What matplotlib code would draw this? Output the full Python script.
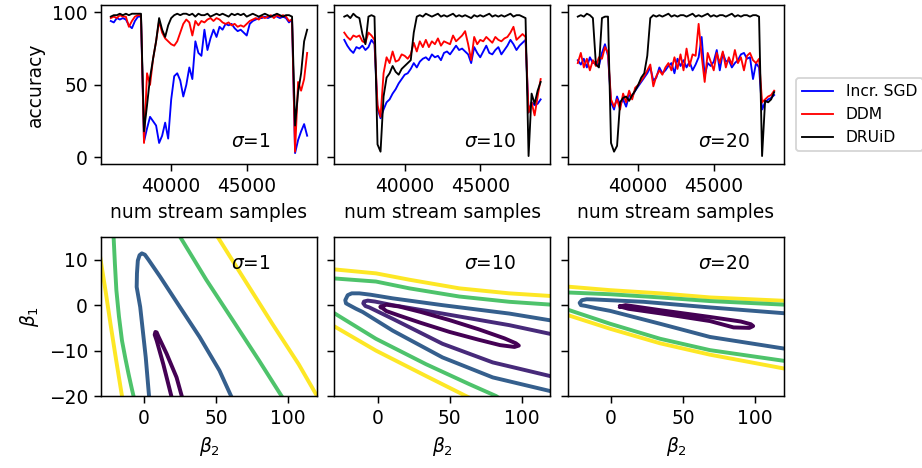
import numpy as np
import matplotlib
matplotlib.use('Agg')
import matplotlib.pyplot as plt

# stream positions of the accuracy curves
samples = np.arange(36000, 49001, 200)

# sigma = 1
sgd_s1 = [94, 93, 96, 95, 96, 95, 91, 89, 94, 97, 97,
          11, 20, 28, 25, 22, 10, 15, 24, 13, 40, 56,
          58, 53, 42, 50, 62, 54, 80, 72, 70, 88, 74,
          82, 88, 83, 90, 88, 92, 91, 92, 89, 87, 88,
          86, 84, 92, 94, 95, 96, 96, 97, 96, 97, 98,
          97, 96, 97, 96, 93, 95, 3, 12, 18, 23, 15]
ddm_s1 = [96, 97, 96, 98, 97, 97, 90, 94, 97, 98, 98,
          10, 58, 50, 68, 80, 94, 86, 82, 80, 78, 77,
          80, 86, 92, 95, 93, 84, 94, 91, 94, 93, 95,
          96, 94, 96, 95, 93, 92, 93, 91, 92, 90, 91,
          90, 92, 94, 95, 96, 95, 97, 96, 97, 98, 96,
          98, 97, 98, 97, 94, 95, 4, 52, 46, 54, 72]
druid_s1 = [97, 98, 98, 99, 98, 99, 98, 99, 99, 99, 99,
            18, 36, 55, 68, 80, 96, 88, 83, 91, 96, 98,
            99, 98, 99, 99, 98, 99, 97, 99, 98, 98, 99,
            97, 98, 99, 98, 99, 98, 97, 99, 98, 99, 98,
            99, 97, 98, 99, 98, 97, 98, 99, 98, 97, 98,
            99, 98, 97, 98, 98, 97, 22, 45, 58, 80, 88]

# sigma = 10
sgd_s10 = [81, 77, 74, 72, 76, 75, 77, 74, 76, 81, 78,
           34, 27, 33, 38, 40, 44, 47, 51, 54, 57, 58,
           61, 65, 62, 66, 68, 69, 67, 71, 69, 70, 67,
           72, 73, 71, 74, 77, 74, 75, 73, 71, 65, 76,
           72, 69, 73, 77, 72, 71, 74, 76, 71, 74, 77,
           81, 78, 74, 77, 79, 81, 31, 38, 36, 37, 40]
ddm_s10 = [86, 83, 81, 84, 83, 84, 80, 79, 86, 84, 81,
           36, 28, 58, 69, 65, 73, 66, 67, 71, 70, 68,
           71, 79, 73, 80, 76, 81, 76, 80, 78, 82, 77,
           80, 79, 78, 84, 80, 82, 84, 87, 78, 67, 83,
           78, 81, 80, 83, 81, 79, 83, 81, 80, 82, 83,
           86, 90, 81, 83, 85, 83, 31, 38, 29, 42, 54]
druid_s10 = [97, 98, 96, 99, 97, 96, 85, 78, 97, 98, 97,
             9, 4, 42, 55, 58, 63, 59, 57, 61, 63, 65,
             67, 86, 97, 98, 97, 99, 98, 97, 98, 99, 97,
             98, 97, 98, 99, 97, 98, 97, 98, 97, 96, 98,
             97, 98, 97, 98, 99, 97, 98, 97, 98, 97, 98,
             99, 97, 98, 98, 97, 96, 1, 44, 37, 46, 52]

# sigma = 20
sgd_s20 = [67, 64, 68, 62, 69, 65, 66, 63, 72, 78, 70,
           38, 33, 42, 36, 40, 35, 43, 42, 46, 49, 52,
           55, 58, 62, 53, 55, 62, 58, 60, 63, 65, 58,
           68, 63, 67, 62, 66, 60, 64, 69, 83, 56, 65,
           63, 66, 74, 60, 72, 66, 67, 62, 65, 67, 71,
           72, 68, 69, 54, 65, 62, 33, 38, 40, 41, 43]
ddm_s20 = [65, 72, 62, 68, 60, 67, 63, 69, 68, 76, 72,
           40, 35, 40, 33, 44, 38, 46, 40, 48, 50, 53,
           56, 60, 64, 49, 56, 60, 57, 62, 65, 60, 69,
           61, 71, 60, 75, 63, 71, 70, 92, 70, 52, 72,
           66, 60, 72, 65, 73, 62, 69, 64, 74, 65, 69,
           60, 70, 72, 67, 65, 68, 38, 40, 42, 43, 46]
druid_s20 = [97, 98, 97, 99, 98, 96, 64, 62, 96, 97, 97,
             10, 4, 8, 38, 41, 42, 39, 43, 46, 50, 55,
             58, 70, 96, 98, 97, 98, 97, 98, 99, 97, 98,
             97, 98, 98, 97, 98, 99, 97, 98, 97, 98, 99,
             97, 98, 97, 98, 98, 97, 98, 99, 97, 98, 97,
             98, 98, 97, 98, 98, 97, 1, 39, 38, 40, 45]

sigmas = [1, 10, 20]
acc = [(sgd_s1, ddm_s1, druid_s1), (sgd_s10, ddm_s10, druid_s10), (sgd_s20, ddm_s20, druid_s20)]

# likelihood contours: (level, beta2, beta1)
contours_s1 = [
    (4, [-31, -26.5, -23.4, -19.5, -15.0], [11.5, 2.5, -4.1, -12, -20.8]),
    (3, [-21.3, -20.3, -19.3, -17.5, -15.4, -13, -10.8, -8.5, -6.8], [15.5, 9, 3.3, -2.5, -7.8, -11.8, -15.2, -18.5, -20.8]),
    (2, [3.6, 1.1, -2.75, -5.2, -5, -4.4, -3.2, -1.6, 0.5, 3, 11, 24.8, 38.5, 52.3, 61.5],
        [-20.8, -11.5, -0.4, 4, 7, 9.8, 11, 11.4, 11.1, 10, 6.3, -0.4, -7, -14.4, -20.8]),
    (0, [19.5, 13.3, 8.7, 7.3, 7.8, 8.7, 9.9, 15.6, 22.5, 26.8],
        [-20.8, -13, -7.8, -6.5, -5.9, -6.0, -6.9, -10.7, -15.9, -20.8]),
    (3, [23.5, 43.1, 61.5, 79.8, 97], [15.8, 5.6, -3.3, -12.2, -20.8]),
    (4, [49.5, 68.3, 89, 107.3, 121.5], [15.8, 6.3, -4.1, -13, -20.8]),
]
contours_s10 = [
    (4, [-31, -1.2, 22, 56.7, 91.4, 121], [7.9, 7.0, 5.6, 3.7, 2.6, 2.0]),
    (3, [-31, -1.2, 22, 56.7, 91.4, 121], [5.9, 5.2, 3.7, 1.9, 0.74, 0.1]),
    (2, [121, 91.4, 45, 10.4, -5, -12.7, -18, -20.8, -22.5, -22, -19.7, -15, -10.4, 10.4, 45, 79.9, 121],
        [-3.4, -1.85, 0, 1.5, 2.3, 2.6, 2.6, 2.2, 1.1, 0.4, 0, -0.8, -1.5, -5.6, -11.5, -15.9, -19]),
    (1, [121, 91.4, 45, 10.4, -2, -6.9, -9.5, -10, -8.5, -5.8, 10.4, 45, 79.9, 121],
        [-6.4, -4.4, -1.85, 0, 0.8, 1.0, 0.8, 0.4, -0.2, -0.5, -3, -8.5, -12.6, -15.7]),
    (0, [2.3, 6, 15, 30, 50, 70, 88, 96, 98, 95, 85, 70, 50, 30, 15, 6, 2.3],
        [-0.4, 0.1, -0.3, -1.5, -3.3, -5.3, -7.3, -8.4, -8.9, -9.2, -8.8, -7.6, -5.9, -3.9, -2.3, -1.3, -0.4]),
    (3, [-31, -1.2, 33.6, 63.7, 82.2, 85], [-1.6, -7.4, -13, -17.4, -20, -20.6]),
    (4, [-31, -1.2, 33.6, 61.3, 64], [-4.5, -10, -15.6, -20, -20.4]),
]
contours_s20 = [
    (4, [-31, -0.7, 34, 68.6, 121], [4.1, 3.3, 2.6, 1.7, 0.95]),
    (3, [-31, -0.7, 34, 68.6, 121], [2.8, 2.4, 1.7, 0.9, 0.1]),
    (2, [121, 68.6, 22.4, -5, -12.2, -17, -20.3, -21.9, -21, -18, -10, -0.7, 34, 68.6, 121],
        [-1.8, -0.5, 0.74, 1.15, 1.26, 1.3, 1.1, 0.5, 0.0, -0.15, -0.7, -1.26, -4.1, -7.0, -9.6]),
    (0, [6.2, 10, 34, 68.6, 90, 97, 98.6, 96, 85, 68.6, 34, 12, 6.2],
        [-0.3, 0.0, -1.1, -2.6, -3.6, -4.2, -4.6, -5.0, -4.9, -3.5, -1.8, -0.8, -0.3]),
    (3, [-31, -0.7, 34, 68.6, 121], [-0.9, -4.1, -7.4, -9.9, -12.3]),
    (4, [-31, -0.7, 34, 68.6, 121], [-2.1, -5.2, -8.4, -10.9, -14.0]),
]
level_colors = [plt.cm.viridis(v) for v in [0.0, 0.12, 0.3, 0.72, 1.0]]


def main():
    fig, axes = plt.subplots(2, 3, figsize=(922 / 134, 468 / 134), dpi=134, sharey='row')
    fig.subplots_adjust(left=0.1095, right=0.8503, top=0.9893, bottom=0.1538, wspace=0.081, hspace=0.459)

    for i, sigma in enumerate(sigmas):
        ax = axes[0, i]
        sgd, ddm, druid = acc[i]
        ax.plot(samples, sgd, color='blue', lw=1, label='Incr. SGD')
        ax.plot(samples, ddm, color='red', lw=1, label='DDM')
        ax.plot(samples, druid, color='black', lw=1, label='DRUiD')
        ax.set_xticks([40000, 45000])
        ax.set_ylim(-4.5, 105)
        ax.set_xlabel('num stream samples')
        ax.text(0.6, 0.11, r'$\sigma$=%d' % sigma, transform=ax.transAxes)

    axes[0, 0].set_ylabel('accuracy')
    axes[0, 2].legend(loc='center left', bbox_to_anchor=(1.02, 0.31), fontsize='small')

    for i, curves in enumerate([contours_s1, contours_s10, contours_s20]):
        ax = axes[1, i]
        for level, b2, b1 in curves:
            ax.plot(b2, b1, color=level_colors[level], lw=2.1, solid_joinstyle='round')
        ax.set_xlim(-30, 120)
        ax.set_ylim(-20, 15)
        ax.set_xticks([0, 50, 100])
        ax.set_xlabel(r'$\beta_2$')
        ax.text(0.6, 0.8, r'$\sigma$=%d' % sigmas[i], transform=ax.transAxes)

    axes[1, 0].set_ylabel(r'$\beta_1$')
    fig.savefig('out.png', dpi=134)


if __name__ == '__main__':
    main()
